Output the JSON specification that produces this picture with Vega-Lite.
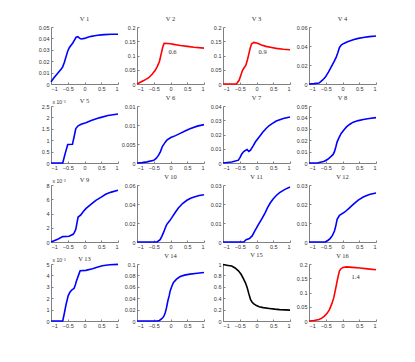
{
 "$schema": "https://vega.github.io/schema/vega-lite/v6.json",
 "padding": {"left": 38, "top": 15, "right": 5, "bottom": 5},
 "datasets": {
  "curves": [
   {"p":1,"x":-1,"y":0.002},{"p":1,"x":-0.9,"y":0.006},{"p":1,"x":-0.8,"y":0.0095},{"p":1,"x":-0.7,"y":0.013},{"p":1,"x":-0.65,"y":0.015},{"p":1,"x":-0.6,"y":0.019},{"p":1,"x":-0.55,"y":0.024},{"p":1,"x":-0.5,"y":0.029},{"p":1,"x":-0.45,"y":0.032},{"p":1,"x":-0.4,"y":0.034},{"p":1,"x":-0.35,"y":0.036},{"p":1,"x":-0.3,"y":0.0385},{"p":1,"x":-0.25,"y":0.041},{"p":1,"x":-0.2,"y":0.0415},{"p":1,"x":-0.15,"y":0.0402},{"p":1,"x":-0.1,"y":0.0395},{"p":1,"x":0,"y":0.04},{"p":1,"x":0.1,"y":0.041},{"p":1,"x":0.2,"y":0.0418},{"p":1,"x":0.3,"y":0.0423},{"p":1,"x":0.4,"y":0.0427},{"p":1,"x":0.5,"y":0.0431},{"p":1,"x":0.6,"y":0.0433},{"p":1,"x":0.8,"y":0.0436},{"p":1,"x":1,"y":0.0437},
   {"p":2,"x":-1,"y":0},{"p":2,"x":-0.8,"y":0.012},{"p":2,"x":-0.65,"y":0.022},{"p":2,"x":-0.55,"y":0.034},{"p":2,"x":-0.46,"y":0.047},{"p":2,"x":-0.4,"y":0.06},{"p":2,"x":-0.33,"y":0.079},{"p":2,"x":-0.28,"y":0.105},{"p":2,"x":-0.23,"y":0.13},{"p":2,"x":-0.19,"y":0.143},{"p":2,"x":-0.1,"y":0.142},{"p":2,"x":0,"y":0.141},{"p":2,"x":0.1,"y":0.139},{"p":2,"x":0.2,"y":0.137},{"p":2,"x":0.3,"y":0.135},{"p":2,"x":0.5,"y":0.132},{"p":2,"x":0.7,"y":0.129},{"p":2,"x":1,"y":0.126},
   {"p":3,"x":-1,"y":0},{"p":3,"x":-0.6,"y":0},{"p":3,"x":-0.52,"y":0.013},{"p":3,"x":-0.47,"y":0.03},{"p":3,"x":-0.42,"y":0.047},{"p":3,"x":-0.37,"y":0.057},{"p":3,"x":-0.32,"y":0.065},{"p":3,"x":-0.27,"y":0.085},{"p":3,"x":-0.23,"y":0.105},{"p":3,"x":-0.19,"y":0.125},{"p":3,"x":-0.15,"y":0.14},{"p":3,"x":-0.08,"y":0.146},{"p":3,"x":0.03,"y":0.143},{"p":3,"x":0.15,"y":0.137},{"p":3,"x":0.28,"y":0.132},{"p":3,"x":0.45,"y":0.128},{"p":3,"x":0.59,"y":0.125},{"p":3,"x":0.8,"y":0.122},{"p":3,"x":1,"y":0.12},
   {"p":4,"x":-1,"y":0},{"p":4,"x":-0.85,"y":0.0004},{"p":4,"x":-0.7,"y":0.001},{"p":4,"x":-0.6,"y":0.004},{"p":4,"x":-0.51,"y":0.0073},{"p":4,"x":-0.42,"y":0.0125},{"p":4,"x":-0.34,"y":0.0177},{"p":4,"x":-0.26,"y":0.023},{"p":4,"x":-0.19,"y":0.028},{"p":4,"x":-0.14,"y":0.033},{"p":4,"x":-0.09,"y":0.0385},{"p":4,"x":-0.03,"y":0.0412},{"p":4,"x":0.04,"y":0.0427},{"p":4,"x":0.15,"y":0.0445},{"p":4,"x":0.32,"y":0.0465},{"p":4,"x":0.47,"y":0.048},{"p":4,"x":0.62,"y":0.049},{"p":4,"x":0.8,"y":0.0499},{"p":4,"x":1,"y":0.0506},
   {"p":5,"x":-1,"y":0},{"p":5,"x":-0.65,"y":0},{"p":5,"x":-0.58,"y":0.4},{"p":5,"x":-0.5,"y":0.81},{"p":5,"x":-0.36,"y":0.82},{"p":5,"x":-0.31,"y":1.15},{"p":5,"x":-0.26,"y":1.51},{"p":5,"x":-0.19,"y":1.63},{"p":5,"x":-0.1,"y":1.7},{"p":5,"x":0.04,"y":1.77},{"p":5,"x":0.2,"y":1.86},{"p":5,"x":0.44,"y":1.98},{"p":5,"x":0.7,"y":2.08},{"p":5,"x":1,"y":2.15},
   {"p":6,"x":-1,"y":0},{"p":6,"x":-0.85,"y":0.0001},{"p":6,"x":-0.7,"y":0.0003},{"p":6,"x":-0.5,"y":0.0007},{"p":6,"x":-0.43,"y":0.0012},{"p":6,"x":-0.36,"y":0.002},{"p":6,"x":-0.3,"y":0.003},{"p":6,"x":-0.24,"y":0.0044},{"p":6,"x":-0.17,"y":0.0053},{"p":6,"x":-0.11,"y":0.006},{"p":6,"x":0.01,"y":0.0067},{"p":6,"x":0.15,"y":0.0072},{"p":6,"x":0.29,"y":0.0078},{"p":6,"x":0.45,"y":0.0085},{"p":6,"x":0.58,"y":0.009},{"p":6,"x":0.8,"y":0.0097},{"p":6,"x":1,"y":0.0101},
   {"p":7,"x":-1,"y":0},{"p":7,"x":-0.74,"y":0.0007},{"p":7,"x":-0.54,"y":0.002},{"p":7,"x":-0.49,"y":0.004},{"p":7,"x":-0.44,"y":0.0063},{"p":7,"x":-0.38,"y":0.008},{"p":7,"x":-0.33,"y":0.0088},{"p":7,"x":-0.28,"y":0.0095},{"p":7,"x":-0.23,"y":0.0081},{"p":7,"x":-0.18,"y":0.009},{"p":7,"x":-0.1,"y":0.012},{"p":7,"x":-0.03,"y":0.0149},{"p":7,"x":0.08,"y":0.0183},{"p":7,"x":0.18,"y":0.0214},{"p":7,"x":0.28,"y":0.024},{"p":7,"x":0.38,"y":0.0263},{"p":7,"x":0.49,"y":0.028},{"p":7,"x":0.59,"y":0.0295},{"p":7,"x":0.8,"y":0.0312},{"p":7,"x":1,"y":0.0323},
   {"p":8,"x":-1,"y":0},{"p":8,"x":-0.75,"y":0},{"p":8,"x":-0.54,"y":0.0015},{"p":8,"x":-0.44,"y":0.0033},{"p":8,"x":-0.34,"y":0.0058},{"p":8,"x":-0.28,"y":0.0075},{"p":8,"x":-0.24,"y":0.0099},{"p":8,"x":-0.2,"y":0.014},{"p":8,"x":-0.16,"y":0.0186},{"p":8,"x":-0.1,"y":0.0225},{"p":8,"x":-0.04,"y":0.0259},{"p":8,"x":0.04,"y":0.029},{"p":8,"x":0.12,"y":0.0317},{"p":8,"x":0.22,"y":0.034},{"p":8,"x":0.32,"y":0.0358},{"p":8,"x":0.47,"y":0.0372},{"p":8,"x":0.62,"y":0.0381},{"p":8,"x":0.8,"y":0.039},{"p":8,"x":1,"y":0.0398},
   {"p":9,"x":-1,"y":0},{"p":9,"x":-0.8,"y":0.4},{"p":9,"x":-0.65,"y":0.75},{"p":9,"x":-0.46,"y":0.8},{"p":9,"x":-0.34,"y":1.08},{"p":9,"x":-0.3,"y":1.35},{"p":9,"x":-0.26,"y":1.78},{"p":9,"x":-0.22,"y":2.8},{"p":9,"x":-0.19,"y":3.5},{"p":9,"x":-0.11,"y":3.79},{"p":9,"x":-0.04,"y":4.25},{"p":9,"x":0.04,"y":4.68},{"p":9,"x":0.2,"y":5.3},{"p":9,"x":0.34,"y":5.85},{"p":9,"x":0.5,"y":6.3},{"p":9,"x":0.63,"y":6.69},{"p":9,"x":0.8,"y":7.0},{"p":9,"x":1,"y":7.25},
   {"p":10,"x":-1,"y":0},{"p":10,"x":-0.4,"y":0},{"p":10,"x":-0.31,"y":0.0025},{"p":10,"x":-0.26,"y":0.006},{"p":10,"x":-0.21,"y":0.0098},{"p":10,"x":-0.16,"y":0.0145},{"p":10,"x":-0.11,"y":0.0186},{"p":10,"x":-0.03,"y":0.022},{"p":10,"x":0.04,"y":0.0256},{"p":10,"x":0.14,"y":0.031},{"p":10,"x":0.24,"y":0.0361},{"p":10,"x":0.36,"y":0.0405},{"p":10,"x":0.49,"y":0.0439},{"p":10,"x":0.6,"y":0.046},{"p":10,"x":0.73,"y":0.0477},{"p":10,"x":0.86,"y":0.049},{"p":10,"x":1,"y":0.0498},
   {"p":11,"x":-1,"y":0},{"p":11,"x":-0.38,"y":0},{"p":11,"x":-0.31,"y":0.0012},{"p":11,"x":-0.21,"y":0.0018},{"p":11,"x":-0.13,"y":0.0032},{"p":11,"x":-0.05,"y":0.0058},{"p":11,"x":0.03,"y":0.0084},{"p":11,"x":0.1,"y":0.0105},{"p":11,"x":0.18,"y":0.0128},{"p":11,"x":0.26,"y":0.0155},{"p":11,"x":0.33,"y":0.0181},{"p":11,"x":0.41,"y":0.0205},{"p":11,"x":0.49,"y":0.0225},{"p":11,"x":0.59,"y":0.0245},{"p":11,"x":0.69,"y":0.026},{"p":11,"x":0.85,"y":0.0277},{"p":11,"x":1,"y":0.0289},
   {"p":12,"x":-1,"y":0},{"p":12,"x":-0.51,"y":0},{"p":12,"x":-0.44,"y":0.0008},{"p":12,"x":-0.37,"y":0.0018},{"p":12,"x":-0.3,"y":0.0035},{"p":12,"x":-0.24,"y":0.0058},{"p":12,"x":-0.2,"y":0.0085},{"p":12,"x":-0.16,"y":0.0119},{"p":12,"x":-0.09,"y":0.014},{"p":12,"x":0.07,"y":0.0158},{"p":12,"x":0.2,"y":0.0178},{"p":12,"x":0.32,"y":0.0198},{"p":12,"x":0.47,"y":0.022},{"p":12,"x":0.62,"y":0.0237},{"p":12,"x":0.8,"y":0.025},{"p":12,"x":1,"y":0.0258},
   {"p":13,"x":-1,"y":0},{"p":13,"x":-0.65,"y":0},{"p":13,"x":-0.6,"y":0.7},{"p":13,"x":-0.55,"y":1.45},{"p":13,"x":-0.49,"y":2.19},{"p":13,"x":-0.44,"y":2.5},{"p":13,"x":-0.39,"y":2.69},{"p":13,"x":-0.31,"y":2.87},{"p":13,"x":-0.27,"y":3.2},{"p":13,"x":-0.24,"y":3.52},{"p":13,"x":-0.18,"y":4.0},{"p":13,"x":-0.13,"y":4.41},{"p":13,"x":0.04,"y":4.44},{"p":13,"x":0.24,"y":4.59},{"p":13,"x":0.4,"y":4.73},{"p":13,"x":0.53,"y":4.85},{"p":13,"x":0.75,"y":4.93},{"p":13,"x":1,"y":4.97},
   {"p":14,"x":-1,"y":0},{"p":14,"x":-0.4,"y":0},{"p":14,"x":-0.33,"y":0.001},{"p":14,"x":-0.26,"y":0.004},{"p":14,"x":-0.2,"y":0.008},{"p":14,"x":-0.16,"y":0.014},{"p":14,"x":-0.12,"y":0.023},{"p":14,"x":-0.08,"y":0.035},{"p":14,"x":-0.04,"y":0.044},{"p":14,"x":-0.01,"y":0.0527},{"p":14,"x":0.04,"y":0.061},{"p":14,"x":0.09,"y":0.0675},{"p":14,"x":0.18,"y":0.0735},{"p":14,"x":0.29,"y":0.078},{"p":14,"x":0.42,"y":0.0805},{"p":14,"x":0.58,"y":0.0822},{"p":14,"x":0.8,"y":0.0838},{"p":14,"x":1,"y":0.085},
   {"p":15,"x":-1,"y":0.99},{"p":15,"x":-0.85,"y":0.975},{"p":15,"x":-0.74,"y":0.965},{"p":15,"x":-0.64,"y":0.93},{"p":15,"x":-0.54,"y":0.88},{"p":15,"x":-0.46,"y":0.82},{"p":15,"x":-0.38,"y":0.73},{"p":15,"x":-0.33,"y":0.67},{"p":15,"x":-0.28,"y":0.59},{"p":15,"x":-0.23,"y":0.48},{"p":15,"x":-0.18,"y":0.38},{"p":15,"x":-0.13,"y":0.33},{"p":15,"x":-0.08,"y":0.3},{"p":15,"x":0,"y":0.27},{"p":15,"x":0.08,"y":0.25},{"p":15,"x":0.2,"y":0.235},{"p":15,"x":0.38,"y":0.22},{"p":15,"x":0.55,"y":0.208},{"p":15,"x":0.69,"y":0.2},{"p":15,"x":0.85,"y":0.195},{"p":15,"x":1,"y":0.19},
   {"p":16,"x":-1,"y":0},{"p":16,"x":-0.85,"y":0.002},{"p":16,"x":-0.7,"y":0.005},{"p":16,"x":-0.62,"y":0.01},{"p":16,"x":-0.54,"y":0.017},{"p":16,"x":-0.46,"y":0.027},{"p":16,"x":-0.39,"y":0.04},{"p":16,"x":-0.32,"y":0.06},{"p":16,"x":-0.26,"y":0.082},{"p":16,"x":-0.21,"y":0.11},{"p":16,"x":-0.16,"y":0.14},{"p":16,"x":-0.12,"y":0.162},{"p":16,"x":-0.09,"y":0.176},{"p":16,"x":-0.04,"y":0.184},{"p":16,"x":0.02,"y":0.188},{"p":16,"x":0.12,"y":0.19},{"p":16,"x":0.3,"y":0.188},{"p":16,"x":0.52,"y":0.186},{"p":16,"x":0.75,"y":0.183},{"p":16,"x":1,"y":0.18}
  ],
  "notes": [
   {"p":2,"x":-0.06,"y":0.111,"t":"0.6"},
   {"p":3,"x":0.06,"y":0.113,"t":"0.9"},
   {"p":16,"x":0.27,"y":0.156,"t":"1.4"}
  ]
 },
 "columns": 4,
 "spacing": {"row": 22, "column": 19},
 "bounds": "flush",
 "resolve": {"scale": {"x": "independent", "y": "independent"}},
 "concat": [
  {"title": "V 1", "data": {"name": "curves"}, "transform": [{"filter": "datum.p==1"}], "mark": {"type": "line", "color": "#0000ff", "strokeWidth": 1.6},
   "encoding": {"x": {"field": "x", "type": "quantitative", "scale": {"domain": [-1, 1]}, "axis": {"values": [-1, -0.5, 0, 0.5, 1], "format": "~g", "title": null}},
                "y": {"field": "y", "type": "quantitative", "scale": {"domain": [0, 0.05], "nice": false}, "axis": {"values": [0, 0.01, 0.02, 0.03, 0.04, 0.05], "format": "~g", "title": null}}}},
  {"title": "V 2",
   "encoding": {"x": {"field": "x", "type": "quantitative", "scale": {"domain": [-1, 1]}, "axis": {"values": [-1, -0.5, 0, 0.5, 1], "format": "~g", "title": null}},
                "y": {"field": "y", "type": "quantitative", "scale": {"domain": [0, 0.2], "nice": false}, "axis": {"values": [0, 0.05, 0.1, 0.15, 0.2], "format": "~g", "title": null}}},
   "layer": [
    {"data": {"name": "curves"}, "transform": [{"filter": "datum.p==2"}], "mark": {"type": "line", "color": "#ff0000", "strokeWidth": 1.6}},
    {"data": {"name": "notes"}, "transform": [{"filter": "datum.p==2"}], "mark": {"type": "text", "font": "Liberation Serif", "fontSize": 6.5, "color": "#333", "align": "left"},
     "encoding": {"text": {"field": "t"}}}
  ]},
  {"title": "V 3",
   "encoding": {"x": {"field": "x", "type": "quantitative", "scale": {"domain": [-1, 1]}, "axis": {"values": [-1, -0.5, 0, 0.5, 1], "format": "~g", "title": null}},
                "y": {"field": "y", "type": "quantitative", "scale": {"domain": [0, 0.2], "nice": false}, "axis": {"values": [0, 0.05, 0.1, 0.15, 0.2], "format": "~g", "title": null}}},
   "layer": [
    {"data": {"name": "curves"}, "transform": [{"filter": "datum.p==3"}], "mark": {"type": "line", "color": "#ff0000", "strokeWidth": 1.6}},
    {"data": {"name": "notes"}, "transform": [{"filter": "datum.p==3"}], "mark": {"type": "text", "font": "Liberation Serif", "fontSize": 6.5, "color": "#333", "align": "left"},
     "encoding": {"text": {"field": "t"}}}
  ]},
  {"title": "V 4", "data": {"name": "curves"}, "transform": [{"filter": "datum.p==4"}], "mark": {"type": "line", "color": "#0000ff", "strokeWidth": 1.6},
   "encoding": {"x": {"field": "x", "type": "quantitative", "scale": {"domain": [-1, 1]}, "axis": {"values": [-1, -0.5, 0, 0.5, 1], "format": "~g", "title": null}},
                "y": {"field": "y", "type": "quantitative", "scale": {"domain": [0, 0.06], "nice": false}, "axis": {"values": [0, 0.02, 0.04, 0.06], "format": "~g", "title": null}}}},
  {"title": {"text": "V 5", "offset": -5}, "data": {"name": "curves"}, "transform": [{"filter": "datum.p==5"}], "mark": {"type": "line", "color": "#0000ff", "strokeWidth": 1.6},
   "encoding": {"x": {"field": "x", "type": "quantitative", "scale": {"domain": [-1, 1]}, "axis": {"values": [-1, -0.5, 0, 0.5, 1], "format": "~g", "title": null}},
                "y": {"field": "y", "type": "quantitative", "scale": {"domain": [0, 2.5], "nice": false}, "axis": {"values": [0, 0.5, 1, 1.5, 2, 2.5], "format": "~g", "title": "x 10⁻³", "titleAngle": 0, "titleAlign": "left", "titleBaseline": "alphabetic", "titleX": 1, "titleY": -3, "titleFontSize": 5, "titleFontWeight": "normal", "titleColor": "#333", "titleFont": "Liberation Sans"}}}},
  {"title": "V 6", "data": {"name": "curves"}, "transform": [{"filter": "datum.p==6"}], "mark": {"type": "line", "color": "#0000ff", "strokeWidth": 1.6},
   "encoding": {"x": {"field": "x", "type": "quantitative", "scale": {"domain": [-1, 1]}, "axis": {"values": [-1, -0.5, 0, 0.5, 1], "format": "~g", "title": null}},
                "y": {"field": "y", "type": "quantitative", "scale": {"domain": [0, 0.015], "nice": false}, "axis": {"values": [0, 0.005, 0.01, 0.015], "format": "~g", "title": null}}}},
  {"title": "V 7", "data": {"name": "curves"}, "transform": [{"filter": "datum.p==7"}], "mark": {"type": "line", "color": "#0000ff", "strokeWidth": 1.6},
   "encoding": {"x": {"field": "x", "type": "quantitative", "scale": {"domain": [-1, 1]}, "axis": {"values": [-1, -0.5, 0, 0.5, 1], "format": "~g", "title": null}},
                "y": {"field": "y", "type": "quantitative", "scale": {"domain": [0, 0.04], "nice": false}, "axis": {"values": [0, 0.01, 0.02, 0.03, 0.04], "format": "~g", "title": null}}}},
  {"title": "V 8", "data": {"name": "curves"}, "transform": [{"filter": "datum.p==8"}], "mark": {"type": "line", "color": "#0000ff", "strokeWidth": 1.6},
   "encoding": {"x": {"field": "x", "type": "quantitative", "scale": {"domain": [-1, 1]}, "axis": {"values": [-1, -0.5, 0, 0.5, 1], "format": "~g", "title": null}},
                "y": {"field": "y", "type": "quantitative", "scale": {"domain": [0, 0.05], "nice": false}, "axis": {"values": [0, 0.01, 0.02, 0.03, 0.04, 0.05], "format": "~g", "title": null}}}},
  {"title": {"text": "V 9", "offset": -5}, "data": {"name": "curves"}, "transform": [{"filter": "datum.p==9"}], "mark": {"type": "line", "color": "#0000ff", "strokeWidth": 1.6},
   "encoding": {"x": {"field": "x", "type": "quantitative", "scale": {"domain": [-1, 1]}, "axis": {"values": [-1, -0.5, 0, 0.5, 1], "format": "~g", "title": null}},
                "y": {"field": "y", "type": "quantitative", "scale": {"domain": [0, 8], "nice": false}, "axis": {"values": [0, 2, 4, 6, 8], "format": "~g", "title": "x 10⁻³", "titleAngle": 0, "titleAlign": "left", "titleBaseline": "alphabetic", "titleX": 1, "titleY": -3, "titleFontSize": 5, "titleFontWeight": "normal", "titleColor": "#333", "titleFont": "Liberation Sans"}}}},
  {"title": "V 10", "data": {"name": "curves"}, "transform": [{"filter": "datum.p==10"}], "mark": {"type": "line", "color": "#0000ff", "strokeWidth": 1.6},
   "encoding": {"x": {"field": "x", "type": "quantitative", "scale": {"domain": [-1, 1]}, "axis": {"values": [-1, -0.5, 0, 0.5, 1], "format": "~g", "title": null}},
                "y": {"field": "y", "type": "quantitative", "scale": {"domain": [0, 0.06], "nice": false}, "axis": {"values": [0, 0.02, 0.04, 0.06], "format": "~g", "title": null}}}},
  {"title": "V 11", "data": {"name": "curves"}, "transform": [{"filter": "datum.p==11"}], "mark": {"type": "line", "color": "#0000ff", "strokeWidth": 1.6},
   "encoding": {"x": {"field": "x", "type": "quantitative", "scale": {"domain": [-1, 1]}, "axis": {"values": [-1, -0.5, 0, 0.5, 1], "format": "~g", "title": null}},
                "y": {"field": "y", "type": "quantitative", "scale": {"domain": [0, 0.03], "nice": false}, "axis": {"values": [0, 0.01, 0.02, 0.03], "format": "~g", "title": null}}}},
  {"title": "V 12", "data": {"name": "curves"}, "transform": [{"filter": "datum.p==12"}], "mark": {"type": "line", "color": "#0000ff", "strokeWidth": 1.6},
   "encoding": {"x": {"field": "x", "type": "quantitative", "scale": {"domain": [-1, 1]}, "axis": {"values": [-1, -0.5, 0, 0.5, 1], "format": "~g", "title": null}},
                "y": {"field": "y", "type": "quantitative", "scale": {"domain": [0, 0.03], "nice": false}, "axis": {"values": [0, 0.01, 0.02, 0.03], "format": "~g", "title": null}}}},
  {"title": {"text": "V 13", "offset": -5}, "data": {"name": "curves"}, "transform": [{"filter": "datum.p==13"}], "mark": {"type": "line", "color": "#0000ff", "strokeWidth": 1.6},
   "encoding": {"x": {"field": "x", "type": "quantitative", "scale": {"domain": [-1, 1]}, "axis": {"values": [-1, -0.5, 0, 0.5, 1], "format": "~g", "title": null}},
                "y": {"field": "y", "type": "quantitative", "scale": {"domain": [0, 5], "nice": false}, "axis": {"values": [0, 1, 2, 3, 4, 5], "format": "~g", "title": "x 10⁻³", "titleAngle": 0, "titleAlign": "left", "titleBaseline": "alphabetic", "titleX": 1, "titleY": -3, "titleFontSize": 5, "titleFontWeight": "normal", "titleColor": "#333", "titleFont": "Liberation Sans"}}}},
  {"title": "V 14", "data": {"name": "curves"}, "transform": [{"filter": "datum.p==14"}], "mark": {"type": "line", "color": "#0000ff", "strokeWidth": 1.6},
   "encoding": {"x": {"field": "x", "type": "quantitative", "scale": {"domain": [-1, 1]}, "axis": {"values": [-1, -0.5, 0, 0.5, 1], "format": "~g", "title": null}},
                "y": {"field": "y", "type": "quantitative", "scale": {"domain": [0, 0.1], "nice": false}, "axis": {"values": [0, 0.02, 0.04, 0.06, 0.08, 0.1], "format": "~g", "title": null}}}},
  {"title": "V 15", "data": {"name": "curves"}, "transform": [{"filter": "datum.p==15"}], "mark": {"type": "line", "color": "#000000", "strokeWidth": 1.6},
   "encoding": {"x": {"field": "x", "type": "quantitative", "scale": {"domain": [-1, 1]}, "axis": {"values": [-1, -0.5, 0, 0.5, 1], "format": "~g", "title": null}},
                "y": {"field": "y", "type": "quantitative", "scale": {"domain": [0, 1], "nice": false}, "axis": {"values": [0, 0.2, 0.4, 0.6, 0.8, 1], "format": "~g", "title": null}}}},
  {"title": "V 16",
   "encoding": {"x": {"field": "x", "type": "quantitative", "scale": {"domain": [-1, 1]}, "axis": {"values": [-1, -0.5, 0, 0.5, 1], "format": "~g", "title": null}},
                "y": {"field": "y", "type": "quantitative", "scale": {"domain": [0, 0.2], "nice": false}, "axis": {"values": [0, 0.05, 0.1, 0.15, 0.2], "format": "~g", "title": null}}},
   "layer": [
    {"data": {"name": "curves"}, "transform": [{"filter": "datum.p==16"}], "mark": {"type": "line", "color": "#ff0000", "strokeWidth": 1.6}},
    {"data": {"name": "notes"}, "transform": [{"filter": "datum.p==16"}], "mark": {"type": "text", "font": "Liberation Serif", "fontSize": 6.5, "color": "#333", "align": "left"},
     "encoding": {"text": {"field": "t"}}}
  ]}
 ],
 "config": {
  "view": {"stroke": null, "continuousWidth": 67, "continuousHeight": 57},
  "axis": {"grid": false, "domainColor": "#808080", "tickColor": "#808080", "labelColor": "#333333", "labelFontSize": 5.5, "labelFont": "Liberation Sans", "tickSize": -2, "labelPadding": 4, "domainWidth": 1},
  "title": {"fontSize": 6.5, "font": "Liberation Serif", "fontWeight": "normal", "color": "#333333", "offset": 3}
 }
}
